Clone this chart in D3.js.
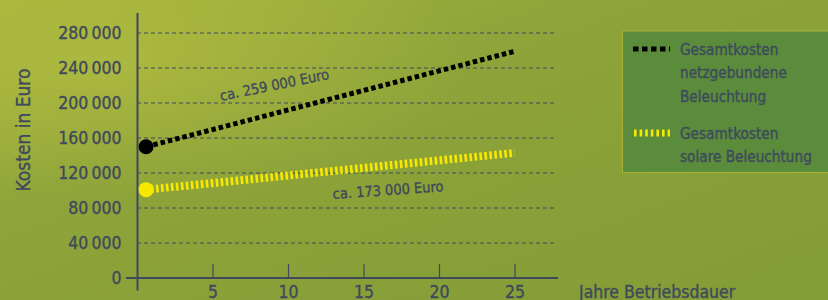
<!DOCTYPE html>
<html><head><meta charset="utf-8">
<script src="https://cdn.jsdelivr.net/npm/d3@7"></script>
<style>
html,body{margin:0;padding:0;background:#86a03a;}
svg{display:block;}
text{font-family:"Liberation Sans Narrow","DejaVu Sans Condensed","Noto Sans",sans-serif;fill:#3e4a5c;stroke:#3e4a5c;stroke-width:0.35px;}
</style></head>
<body><svg id="c" width="828" height="300"></svg>
<script>
const years = [0.6, 25];
const netzValues = [150000, 259000];
const solarValues = [101000, 143000];
const yTicks = [0, 40000, 80000, 120000, 160000, 200000, 240000, 280000];
const xTicks = [5, 10, 15, 20, 25];
const seriesNames = [["Gesamtkosten","netzgebundene","Beleuchtung"],["Gesamtkosten","solare Beleuchtung"]];
const annotations = ["ca. 259 000 Euro", "ca. 173 000 Euro"];
const axisTitles = ["Kosten in Euro", "Jahre Betriebsdauer"];

const svg = d3.select("#c");
const defs = svg.append("defs");
const g1 = defs.append("linearGradient").attr("id","bg").attr("x1","0").attr("y1","0").attr("x2","1").attr("y2","1");
g1.append("stop").attr("offset","0").attr("stop-color","#a8b73c");
g1.append("stop").attr("offset","0.35").attr("stop-color","#8fa43a");
g1.append("stop").attr("offset","1").attr("stop-color","#829c36");
const g2 = defs.append("radialGradient").attr("id","hl").attr("cx","0.12").attr("cy","0.2").attr("r","0.45");
g2.append("stop").attr("offset","0").attr("stop-color","#b2bc42").attr("stop-opacity",0.7);
g2.append("stop").attr("offset","1").attr("stop-color","#b2bc42").attr("stop-opacity",0);
svg.append("rect").attr("width",828).attr("height",300).attr("fill","url(#bg)");
svg.append("rect").attr("width",828).attr("height",300).attr("fill","url(#hl)");

const x = d3.scaleLinear().domain([0,25]).range([137,514.5]);
const y = d3.scaleLinear().domain([0,280000]).range([278,33]);
const ink = "#3e4a5c";
const fmt = v => d3.format(",")(v).replace(/,/g,"\u2009");

// gridlines
svg.append("g").selectAll("line").data(yTicks.filter(d=>d>0)).join("line")
  .attr("x1",x(0)).attr("x2",556).attr("y1",d=>y(d)).attr("y2",d=>y(d))
  .attr("stroke",ink).attr("stroke-width",1).attr("stroke-dasharray","4,3");

// y axis
const ya = svg.append("g").attr("transform",`translate(${x(0)+0.5},0)`)
  .call(d3.axisLeft(y).tickValues(yTicks).tickFormat(fmt).tickSize(0).tickPadding(16));
ya.select(".domain").remove();
ya.selectAll("text").attr("font-size",17.5).attr("fill",ink).attr("font-family",null);
svg.append("line").attr("x1",x(0)+0.5).attr("x2",x(0)+0.5).attr("y1",13).attr("y2",290.5).attr("stroke",ink).attr("stroke-width",2);

// x axis
svg.append("line").attr("x1",126).attr("x2",558).attr("y1",y(0)).attr("y2",y(0)).attr("stroke",ink).attr("stroke-width",2.2);
const xa = svg.append("g").attr("transform",`translate(0,${y(0)})`)
  .call(d3.axisTop(x).tickValues(xTicks).tickSize(14).tickFormat(d3.format("d")));
xa.select(".domain").remove();
xa.selectAll("line").attr("stroke",ink).attr("stroke-width",1.2);
xa.selectAll("text").attr("y",19.5).attr("dy",null).attr("font-size",17.5).attr("fill",ink).attr("font-family",null);

// axis titles
svg.append("text").attr("transform","translate(30,130) rotate(-90)").attr("text-anchor","middle")
  .attr("font-size",19).text(axisTitles[0]);
svg.append("text").attr("x",579).attr("y",297.5).attr("font-size",17.5).text(axisTitles[1]);

// lines
const line = d3.line().x(d=>x(d[0])).y(d=>y(d[1]));
svg.append("path").datum(years.map((t,i)=>[t,netzValues[i]])).attr("d",line)
  .attr("fill","none").attr("stroke","#000").attr("stroke-width",5).attr("stroke-dasharray","4.5,3");
svg.append("path").datum(years.map((t,i)=>[t,solarValues[i]])).attr("d",line)
  .attr("fill","none").attr("stroke","#f7e800").attr("stroke-width",8).attr("stroke-dasharray","2.6,2.4");
svg.append("circle").attr("cx",x(years[0])).attr("cy",y(netzValues[0])).attr("r",7.5).attr("fill","#000");
svg.append("circle").attr("cx",x(years[0])).attr("cy",y(solarValues[0])).attr("r",7.5).attr("fill","#f7e800");

// annotations
svg.append("text").attr("transform","translate(221,101) rotate(-11.5)").attr("font-size",14.5).text(annotations[0]);
svg.append("text").attr("transform","translate(333,199) rotate(-4)").attr("font-size",14.5).text(annotations[1]);

// legend
svg.append("rect").attr("x",622.5).attr("y",31).attr("width",210).attr("height",141.5)
  .attr("fill","#5b8c3c").attr("stroke","#a9b434").attr("stroke-width",1);
svg.append("line").attr("x1",633).attr("x2",670).attr("y1",49).attr("y2",49)
  .attr("stroke","#000").attr("stroke-width",5).attr("stroke-dasharray","5.5,3.5");
svg.append("line").attr("x1",634).attr("x2",670).attr("y1",133).attr("y2",133)
  .attr("stroke","#f7e800").attr("stroke-width",7).attr("stroke-dasharray","2.6,3");
const lt = [[55,0],[139,1]];
lt.forEach(([yy,i])=>{
  svg.append("text").attr("x",680).attr("y",yy).attr("font-size",15.2)
    .selectAll("tspan").data(seriesNames[i]).join("tspan")
    .attr("x",680).attr("dy",(d,j)=>j?23.3:0).text(d=>d);
});
</script></body></html>
